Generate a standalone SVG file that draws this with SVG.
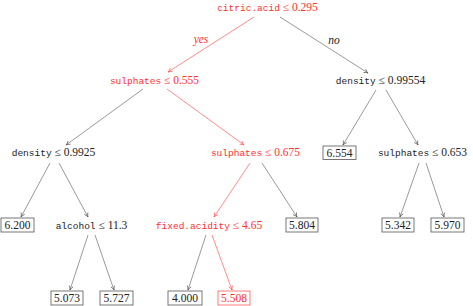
<svg xmlns="http://www.w3.org/2000/svg" width="473" height="306" viewBox="0 0 473 306">
<style>
text{font-size:11.5px;font-family:"Liberation Serif","DejaVu Serif","Times New Roman",serif;fill:#222}
.m{font-family:"Liberation Mono","DejaVu Sans Mono",monospace;font-size:9.5px}
.r{fill:#ff3030}
.n text{text-anchor:middle}
.box{fill:#fff;stroke:#555;stroke-width:0.8}
.rbox{fill:#fff;stroke:#ff5a5a;stroke-width:0.8}
.e{stroke:#555;stroke-width:0.6;fill:none;marker-end:url(#ag)}
.er{stroke:#ff5a5a;stroke-width:0.7;fill:none;marker-end:url(#ar)}
.lab{font-style:italic;text-anchor:middle}
</style>
<defs>
<marker id="ag" viewBox="0 0 6 6" refX="5" refY="3" markerWidth="6" markerHeight="6" orient="auto" markerUnits="userSpaceOnUse">
<path d="M1,1 Q3,2.6 5,3 Q3,3.4 1,5" fill="none" stroke="#555" stroke-width="0.7"/>
</marker>
<marker id="ar" viewBox="0 0 6 6" refX="5" refY="3" markerWidth="6" markerHeight="6" orient="auto" markerUnits="userSpaceOnUse">
<path d="M1,1 Q3,2.6 5,3 Q3,3.4 1,5" fill="none" stroke="#ff5a5a" stroke-width="0.7"/>
</marker>
</defs>
<g id="edges">
<line class="er" x1="254" y1="17" x2="168" y2="72"/>
<line class="e" x1="280" y1="17" x2="368" y2="73"/>
<text class="lab r" x="201" y="43" font-family="Liberation Serif, serif">yes</text>
<text class="lab" x="334" y="44" font-family="Liberation Serif, serif">no</text>
<line class="e" x1="143" y1="89" x2="66" y2="145"/>
<line class="er" x1="167" y1="89" x2="244" y2="145"/>
<line class="e" x1="376" y1="90" x2="343" y2="145"/>
<line class="e" x1="386" y1="90" x2="418" y2="145"/>
<line class="e" x1="50" y1="163" x2="21" y2="217"/>
<line class="e" x1="59" y1="163" x2="88" y2="217"/>
<line class="er" x1="250" y1="163" x2="214" y2="217"/>
<line class="e" x1="262" y1="163" x2="297" y2="217"/>
<line class="e" x1="419" y1="163" x2="400" y2="217"/>
<line class="e" x1="426" y1="163" x2="444" y2="217"/>
<line class="e" x1="88" y1="235" x2="70" y2="290"/>
<line class="e" x1="95" y1="235" x2="114" y2="290"/>
<line class="e" x1="206" y1="235" x2="188" y2="290"/>
<line class="er" x1="212" y1="235" x2="232" y2="290"/>
</g>
<g class="n" id="n-root"><text x="267.5" y="11" class="r" font-family="Liberation Serif, serif"><tspan class="m r">citric.acid</tspan> ≤ 0.295</text></g>
<g class="n" id="n-sulph555"><text x="154.5" y="84" class="r" font-family="Liberation Serif, serif"><tspan class="m r">sulphates</tspan> ≤ 0.555</text></g>
<g class="n" id="n-dens99554"><text x="380.5" y="84" font-family="Liberation Serif, serif"><tspan class="m">density</tspan> ≤ 0.99554</text></g>
<g class="n" id="n-dens9925"><text x="53.5" y="156" font-family="Liberation Serif, serif"><tspan class="m">density</tspan> ≤ 0.9925</text></g>
<g class="n" id="n-sulph675"><text x="255.5" y="156" class="r" font-family="Liberation Serif, serif"><tspan class="m r">sulphates</tspan> ≤ 0.675</text></g>
<g class="n" id="n-6554"><rect class="box" x="323" y="146" width="33" height="13.5"/><text x="339.5" y="156.5" font-family="Liberation Serif, serif">6.554</text></g>
<g class="n" id="n-sulph653"><text x="422.5" y="156" font-family="Liberation Serif, serif"><tspan class="m">sulphates</tspan> ≤ 0.653</text></g>
<g class="n" id="n-6200"><rect class="box" x="1" y="218" width="33" height="14"/><text x="17.5" y="228.5" font-family="Liberation Serif, serif">6.200</text></g>
<g class="n" id="n-alcohol"><text x="91.5" y="229" font-family="Liberation Serif, serif"><tspan class="m">alcohol</tspan> ≤ 11.3</text></g>
<g class="n" id="n-fixed"><text x="209" y="229" class="r" font-family="Liberation Serif, serif"><tspan class="m r">fixed.acidity</tspan> ≤ 4.65</text></g>
<g class="n" id="n-5804"><rect class="box" x="286" y="218" width="32" height="14"/><text x="302" y="228.5" font-family="Liberation Serif, serif">5.804</text></g>
<g class="n" id="n-5342"><rect class="box" x="382" y="218" width="32" height="14"/><text x="398" y="228.5" font-family="Liberation Serif, serif">5.342</text></g>
<g class="n" id="n-5970"><rect class="box" x="431" y="218" width="33" height="14"/><text x="447.5" y="228.5" font-family="Liberation Serif, serif">5.970</text></g>
<g class="n" id="n-5073"><rect class="box" x="51" y="291" width="32" height="14"/><text x="67" y="301.5" font-family="Liberation Serif, serif">5.073</text></g>
<g class="n" id="n-5727"><rect class="box" x="100" y="291" width="33" height="14"/><text x="116.5" y="301.5" font-family="Liberation Serif, serif">5.727</text></g>
<g class="n" id="n-4000"><rect class="box" x="168" y="291" width="34" height="14"/><text x="185" y="301.5" font-family="Liberation Serif, serif">4.000</text></g>
<g class="n" id="n-5508"><rect class="rbox" x="218" y="291" width="32" height="14"/><text x="234" y="301.5" class="r" font-family="Liberation Serif, serif">5.508</text></g>
</svg>
